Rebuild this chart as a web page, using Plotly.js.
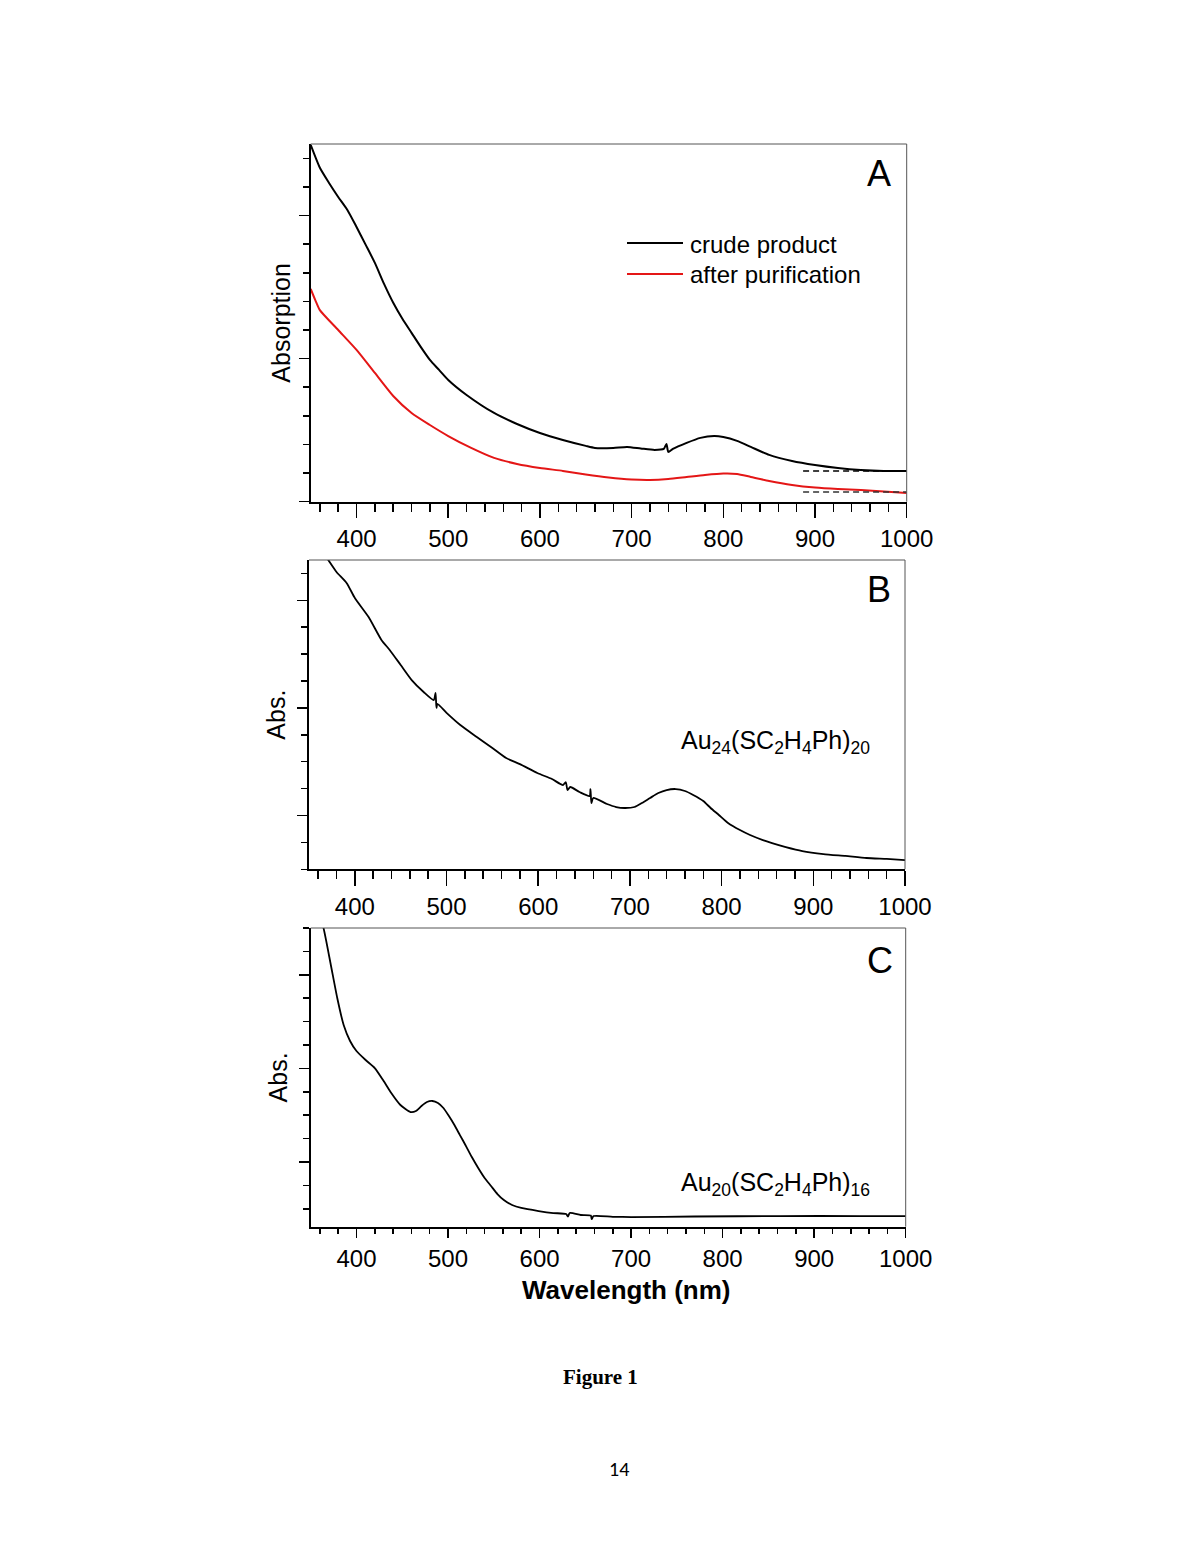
<!DOCTYPE html>
<html>
<head>
<meta charset="utf-8">
<script src="https://cdn.plot.ly/plotly-3.0.1.min.js"></script>
<style>html,body{margin:0;padding:0;background:#fff;}#chart{width:1200px;height:1553px;}</style>
</head>
<body>
<div id="chart"></div>
<script>
// ---------- Panel A data ----------
const wlCrude = [350,360,370,380,390,400,410,420,430,440,450,460,470,480,490,500,520,550,575,600,625,650,660,680,695,710,725,735,738,740,745,760,775,790,800,815,830,850,875,900,925,950,975,1000];
const absCrude = [2.494,2.334,2.228,2.130,2.039,1.920,1.795,1.669,1.522,1.390,1.278,1.180,1.082,0.991,0.921,0.851,0.746,0.620,0.543,0.480,0.431,0.390,0.376,0.376,0.383,0.372,0.362,0.369,0.404,0.348,0.369,0.411,0.446,0.459,0.452,0.425,0.383,0.327,0.285,0.257,0.236,0.222,0.215,0.215];
const wlPurified = [350,355,360,380,400,420,440,460,480,500,525,550,575,600,625,650,675,700,720,740,760,780,800,815,830,850,875,900,925,950,975,1000];
const absPurified = [1.487,1.409,1.339,1.200,1.061,0.900,0.739,0.620,0.536,0.459,0.376,0.306,0.264,0.236,0.215,0.190,0.169,0.155,0.152,0.159,0.173,0.187,0.197,0.194,0.173,0.145,0.117,0.099,0.089,0.082,0.071,0.061];
const baselineWl = [887,1000];
const crudeBaseline = [0.215,0.215];
const purifiedBaseline = [0.068,0.068];

// ---------- Panel B data: Au24(SC2H4Ph)20 ----------
const wlAu24 = [360,371,380,391,400,415,429,438,450,462,475,486,488,489,490,500,515,533,550,565,580,599,615,627,630,632,635,645,656,657,658,660,675,685,694,705,713,722,731,740,750,760,769,780,788,797,807,820,831,845,855,870,888,911,935,958,980,1000];
const absAu24 = [3.514,3.375,3.264,3.162,3.022,2.845,2.632,2.539,2.399,2.259,2.148,2.073,2.139,2.000,2.037,1.954,1.841,1.730,1.627,1.534,1.478,1.395,1.339,1.283,1.311,1.237,1.265,1.218,1.181,1.246,1.116,1.163,1.107,1.079,1.070,1.079,1.116,1.163,1.209,1.237,1.246,1.228,1.191,1.135,1.070,1.005,0.931,0.865,0.819,0.772,0.744,0.707,0.670,0.642,0.624,0.605,0.596,0.586];

// ---------- Panel C data: Au20(SC2H4Ph)16 ----------
const wlAu20 = [355,364,372,379,386,393,400,410,420,429,438,448,459,465,471,477,483,489,495,501,507,513,519,526,533,540,547,554,561,570,580,599,615,629,631,633,645,656,657,659,680,700,769,863,950,1000];
const absAu20 = [3.799,3.500,3.105,2.752,2.464,2.293,2.186,2.090,2.004,1.876,1.737,1.609,1.534,1.545,1.598,1.641,1.652,1.630,1.577,1.491,1.395,1.288,1.182,1.053,0.936,0.829,0.744,0.658,0.594,0.541,0.509,0.476,0.455,0.444,0.418,0.455,0.434,0.428,0.391,0.423,0.415,0.412,0.418,0.423,0.423,0.421];

// ---------- labels ----------
const panelLabels = ['A','B','C'];
const seriesNames = ['crude product','after purification'];
const compoundLabels = ['Au<sub>24</sub>(SC<sub>2</sub>H<sub>4</sub>Ph)<sub>20</sub>','Au<sub>20</sub>(SC<sub>2</sub>H<sub>4</sub>Ph)<sub>16</sub>'];
const yTitles = ['Absorption','Abs.','Abs.'];
const xTitle = 'Wavelength (nm)';
const xTickVals = [400,500,600,700,800,900,1000];

const W = 1200, H = 1553;
const px = v => v / W;
const py = v => 1 - v / H;
const FONT = 'Liberation Sans, Arial, Helvetica, sans-serif';
const RED = 'rgb(228,22,22)';
const SPL = {shape:'spline', smoothing:0.6};

const traces = [
  {x: wlCrude, y: absCrude, xaxis:'x', yaxis:'y', mode:'lines', name: seriesNames[0], line:Object.assign({color:'#000', width:2}, SPL)},
  {x: wlPurified, y: absPurified, xaxis:'x', yaxis:'y', mode:'lines', name: seriesNames[1], line:Object.assign({color:RED, width:2}, SPL)},
  {x: baselineWl, y: crudeBaseline, xaxis:'x', yaxis:'y', mode:'lines', line:{color:'#000', width:1.6, dash:'6px,4px'}, hoverinfo:'skip'},
  {x: baselineWl, y: purifiedBaseline, xaxis:'x', yaxis:'y', mode:'lines', line:{color:'#333', width:1.6, dash:'6px,4px'}, hoverinfo:'skip'},
  {x: wlAu24, y: absAu24, xaxis:'x2', yaxis:'y2', mode:'lines', name:'Au24', line:Object.assign({color:'#000', width:1.8}, SPL)},
  {x: wlAu20, y: absAu20, xaxis:'x3', yaxis:'y3', mode:'lines', name:'Au20', line:Object.assign({color:'#000', width:1.8}, SPL)}
];

function xAxis(domain, anchor, majorLen, minorLen) {
  return {
    domain: domain, anchor: anchor, range:[350,1000], autorange:false,
    showline:true, linecolor:'#000', linewidth:2, mirror:false,
    showgrid:false, zeroline:false,
    tickmode:'array', tickvals: xTickVals,
    ticks:'outside', ticklen:majorLen, tickwidth:1.5, tickcolor:'#000',
    ticklabelstandoff: 0,
    minor:{ticks:'outside', ticklen:minorLen, tickwidth:1.5, tickcolor:'#000', dtick:20, tick0:0, showgrid:false},
    tickfont:{family:FONT, size:24, color:'#000'}
  };
}
function yAxis(domain, anchor, range, minorDtick, title, standoff) {
  return {
    domain: domain, anchor: anchor, range: range, autorange:false,
    showline:true, linecolor:'#000', linewidth:2, mirror:false,
    showgrid:false, zeroline:false, showticklabels:false,
    tickmode:'linear', tick0:0, dtick:1,
    ticks:'outside', ticklen:10, tickwidth:1.5, tickcolor:'#000',
    minor:{ticks:'outside', ticklen:6, tickwidth:1.5, tickcolor:'#000', dtick:minorDtick, tick0:0, showgrid:false},
    title:{text:title, font:{family:FONT, size:25, color:'#000'}, standoff:standoff}
  };
}

const frameShapes = [];
[['x','y'],['x2','y2'],['x3','y3']].forEach(([xa,ya]) => {
  frameShapes.push({type:'line', xref:xa+' domain', yref:ya+' domain', x0:0, x1:1, y0:1, y1:1, line:{color:'#555', width:1}});
  frameShapes.push({type:'line', xref:xa+' domain', yref:ya+' domain', x0:1, x1:1, y0:0, y1:1, line:{color:'#555', width:1}});
});
// legend sample lines (panel A)
frameShapes.push({type:'line', xref:'paper', yref:'paper', x0:px(627), x1:px(683), y0:py(243), y1:py(243), line:{color:'#000', width:2}});
frameShapes.push({type:'line', xref:'paper', yref:'paper', x0:px(627), x1:px(683), y0:py(274), y1:py(274), line:{color:RED, width:2}});

function note(text, x, y, size, opts) {
  return Object.assign({text:text, x:px(x), y:py(y), xref:'paper', yref:'paper', xanchor:'center', yanchor:'middle', showarrow:false, font:{family:FONT, size:size, color:'#000'}}, opts || {});
}

const ann = [
  note(panelLabels[0], 879, 174, 36),
  note(panelLabels[1], 879, 589, 36),
  note(panelLabels[2], 880, 961, 36),
  note(seriesNames[0], 688, 244, 24, {xanchor:'left'}),
  note(seriesNames[1], 688, 275, 24, {xanchor:'left'}),
  note(compoundLabels[0], 679, 742, 25, {xanchor:'left'}),
  note(compoundLabels[1], 679, 1184, 25, {xanchor:'left'}),
  note('<b>' + xTitle + '</b>', 626, 1290, 26),
  note('<b>Figure 1</b>', 600, 1377, 21, {font:{family:'Liberation Serif, Times New Roman, serif', size:21, color:'#000'}}),
  note('14', 619, 1469, 20, {font:{family:'Carlito, Open Sans, Liberation Sans, sans-serif', size:20, color:'#000'}})
];

const layout = {
  width:W, height:H, margin:{l:0,r:0,t:0,b:0}, showlegend:false,
  paper_bgcolor:'#fff', plot_bgcolor:'rgba(0,0,0,0)',
  xaxis: xAxis([px(310.7), px(906.7)], 'y', 14, 8),
  yaxis: yAxis([py(501.7), py(144)], 'x', [0, 2.5], 0.2, yTitles[0], 1),
  xaxis2: xAxis([px(309), px(905)], 'y2', 15, 8),
  yaxis2: yAxis([py(869.3), py(560)], 'x2', [0.5, 3.375], 0.25, yTitles[1], 4),
  xaxis3: xAxis([px(310.7), px(905.7)], 'y3', 9, 5),
  yaxis3: yAxis([py(1226.7), py(928)], 'x3', [0.309, 3.5], 0.25, yTitles[2], 4),
  shapes: frameShapes,
  annotations: ann
};

Plotly.newPlot('chart', traces, layout, {staticPlot:true, displayModeBar:false});
</script>
</body>
</html>
